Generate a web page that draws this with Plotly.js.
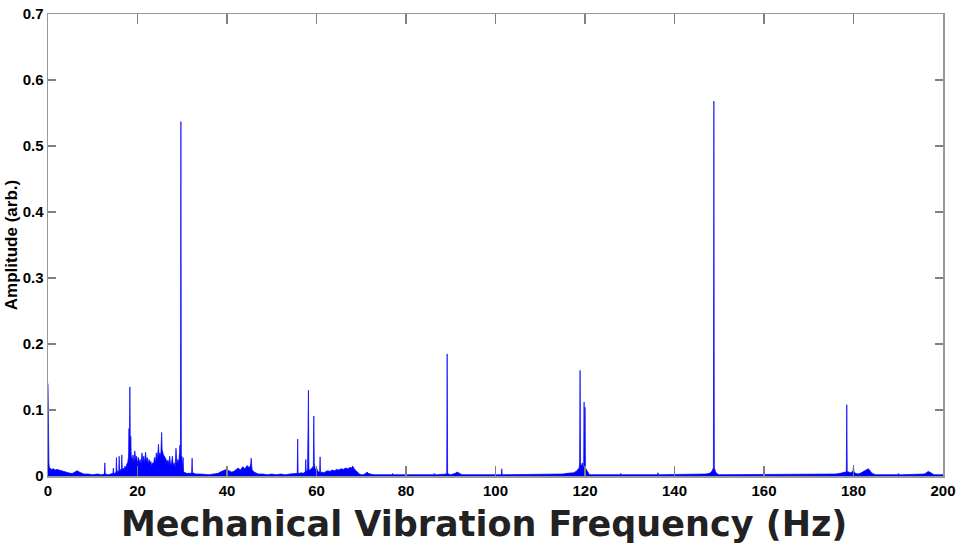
<!DOCTYPE html>
<html>
<head>
<meta charset="utf-8">
<script src="https://cdn.plot.ly/plotly-3.0.1.min.js"></script>
<style>html,body{margin:0;padding:0;background:#fff;}#chart{width:965px;height:547px;}</style>
</head>
<body>
<div id="chart"></div>
<script>
// Frequency (Hz)
var freqHz = [
  0, 0.05, 0.1, 0.2, 0.3, 0.5, 0.8, 1.2, 1.6, 2.0, 2.5, 3.0, 3.5, 4.0, 4.5, 5.0,
  5.5, 6.0, 6.5, 7.0, 7.5, 8.0, 9.0, 10.0, 11.0, 12.0, 12.6, 12.7, 12.8, 13.5, 14.0, 14.5, 14.6, 14.7,
  15.0, 15.2, 15.3, 15.4, 15.6, 15.8, 15.9, 16.0, 16.2, 16.4,
  16.5, 16.6, 16.8, 17.0, 17.2, 17.4, 17.6, 17.8, 18.0, 18.1,
  18.2, 18.3, 18.4, 18.5, 18.6, 18.8, 19.0, 19.2, 19.4, 19.6,
  19.8, 20.0, 20.2, 20.4, 20.6, 20.8, 21.0, 21.2, 21.4, 21.6,
  21.8, 22.0, 22.2, 22.4, 22.6, 22.8, 23.0, 23.2, 23.4, 23.6,
  23.8, 24.0, 24.2, 24.4, 24.6, 24.7, 24.8, 25.0, 25.2, 25.3,
  25.4, 25.5, 25.6, 25.8, 26.0, 26.2, 26.4, 26.6, 26.8, 27.0,
  27.2, 27.4, 27.6, 27.8, 28.0, 28.2, 28.4, 28.6, 28.8, 29.0,
  29.2, 29.4, 29.5, 29.6, 29.7, 29.8, 29.9, 30.0,
  30.2, 30.3, 30.6, 31.0, 31.5, 32.0, 32.1, 32.2, 32.3, 32.6,
  33.0, 34.0, 35.0, 36.0, 37.0, 38.0, 38.5, 39.0, 39.5, 39.9,
  40.0, 40.1, 40.5, 41.0, 41.5, 42.0, 42.5, 43.0, 43.5, 44.0,
  44.5, 45.0, 45.3, 45.4, 45.5, 45.6, 46.0, 46.5, 47.0, 48.0,
  49.0, 50.0, 51.0, 52.0, 53.0, 54.0, 55.0, 55.7, 55.8, 55.9,
  56.2, 56.6, 57.0, 57.5, 57.6, 57.7, 58.0, 58.1, 58.2, 58.3,
  58.4, 58.6, 59.0, 59.3, 59.4, 59.5, 59.7, 60.0, 60.4, 60.7,
  60.8, 60.9, 61.2, 61.6, 62.0, 62.5, 63.0, 63.5, 64.0, 64.5,
  65.0, 65.5, 66.0, 66.5, 67.0, 67.5, 67.8, 68.1, 68.4, 68.8,
  69.2, 69.6, 70.0,
  70.5, 71.0, 71.3, 71.6, 72.0, 73.0, 74.0, 75.0, 76.0, 76.9,
  77.0, 77.1, 78.0, 79.0, 80.0, 81.0, 82.0, 83.0, 84.0, 85.0,
  86.2, 86.3, 86.4, 87.0, 88.0, 89.0, 89.1, 89.2, 89.3, 89.5,
  90.0, 91.0, 91.4, 91.7, 92.0, 92.5, 93.0, 94.0, 95.0, 96.0,
  97.0, 98.0, 99.0, 100.0, 101.3, 101.4, 101.5, 102.0, 103.0, 104.0,
  105.0, 106.0, 107.0, 108.0, 109.0, 110.0, 111.0, 112.0, 113.0, 114.0,
  115.0, 116.0, 116.5, 117.0, 117.5, 118.0, 118.4, 118.7, 118.8, 118.9,
  119.0, 119.2, 119.4, 119.6, 119.7, 119.8, 119.9, 120.0, 120.1, 120.5,
  121.0, 121.5, 122.0, 123.0, 124.0, 125.0, 126.0, 127.0, 127.9, 128.0,
  128.1, 129.0, 130.0, 131.0, 132.0, 133.0, 134.0, 135.0, 136.2, 136.3,
  136.4, 137.0, 138.0, 139.0, 140.0, 141.0, 142.0, 143.0, 144.0, 145.0,
  146.0, 147.0, 147.8, 148.2, 148.5, 148.7, 148.8, 148.9, 149.2, 149.6,
  150.0, 151.0, 152.0, 153.0, 154.0, 155.0, 156.0, 157.0, 158.0, 159.0,
  160.0, 161.0, 162.0, 163.0, 164.0, 165.0, 166.0, 167.0, 168.0, 169.0,
  170.0, 171.0, 172.0, 173.0, 174.0, 175.0, 176.0, 177.0, 177.8, 178.2,
  178.4, 178.5, 178.6, 178.9, 179.3, 179.6, 179.9, 180.0, 180.1, 180.5,
  181.0, 181.5, 182.0, 182.5, 183.0, 183.3, 183.6, 184.0, 184.5, 185.0,
  186.0, 187.0, 188.0, 189.0, 189.9, 190.0, 190.1, 191.0, 192.0, 193.0,
  194.0, 195.0, 195.8, 196.3, 196.7, 197.0, 197.4, 198.0, 199.0, 200.0
];
// Amplitude (arb.)
var amplitude = [
  0.14, 0.045, 0.032, 0.02, 0.013, 0.011, 0.01, 0.011, 0.009, 0.01, 0.009, 0.008, 0.006, 0.005, 0.004, 0.004,
  0.004, 0.006, 0.008, 0.006, 0.004, 0.003, 0.003, 0.002, 0.003, 0.002, 0.003, 0.02, 0.003, 0.002, 0.003, 0.004, 0.012, 0.004,
  0.004, 0.006, 0.028, 0.005, 0.008, 0.006, 0.03, 0.007, 0.01, 0.008,
  0.032, 0.009, 0.012, 0.01, 0.015, 0.012, 0.018, 0.02, 0.03, 0.072,
  0.04, 0.135, 0.035, 0.06, 0.03, 0.025, 0.032, 0.02, 0.038, 0.025,
  0.03, 0.018, 0.028, 0.02, 0.025, 0.018, 0.035, 0.022, 0.03, 0.02,
  0.036, 0.022, 0.028, 0.018, 0.025, 0.02, 0.022, 0.015, 0.02, 0.018,
  0.028, 0.02, 0.035, 0.025, 0.04, 0.048, 0.03, 0.035, 0.03, 0.05,
  0.066, 0.04, 0.035, 0.032, 0.03, 0.028, 0.025, 0.02, 0.024, 0.018,
  0.03, 0.015, 0.02, 0.03, 0.015, 0.02, 0.012, 0.042, 0.018, 0.025,
  0.02, 0.035, 0.047, 0.03, 0.537, 0.02, 0.03, 0.012,
  0.028, 0.006, 0.005, 0.004, 0.004, 0.004, 0.006, 0.027, 0.005, 0.004,
  0.003, 0.003, 0.002, 0.002, 0.003, 0.004, 0.006, 0.008, 0.009, 0.01,
  0.015, 0.009, 0.008, 0.006, 0.007, 0.01, 0.012, 0.009, 0.014, 0.011,
  0.016, 0.012, 0.018, 0.027, 0.014, 0.01, 0.006, 0.004, 0.003, 0.003,
  0.002, 0.003, 0.002, 0.003, 0.002, 0.003, 0.003, 0.004, 0.056, 0.004,
  0.004, 0.005, 0.004, 0.006, 0.025, 0.006, 0.01, 0.09, 0.13, 0.012,
  0.008, 0.01, 0.012, 0.015, 0.091, 0.02, 0.01, 0.012, 0.006, 0.006,
  0.029, 0.005, 0.006, 0.005, 0.006, 0.008, 0.007, 0.009, 0.008, 0.01,
  0.009, 0.011, 0.01, 0.012, 0.011, 0.013, 0.012, 0.015, 0.011, 0.008,
  0.005, 0.003, 0.002,
  0.002, 0.004, 0.006, 0.004, 0.003, 0.002, 0.002, 0.002, 0.002, 0.002,
  0.004, 0.002, 0.002, 0.002, 0.002, 0.002, 0.001, 0.002, 0.002, 0.002,
  0.002, 0.004, 0.002, 0.002, 0.002, 0.003, 0.004, 0.185, 0.004, 0.003,
  0.002, 0.004, 0.006, 0.005, 0.003, 0.002, 0.002, 0.002, 0.002, 0.002,
  0.002, 0.003, 0.002, 0.002, 0.002, 0.011, 0.002, 0.002, 0.002, 0.002,
  0.002, 0.002, 0.003, 0.002, 0.002, 0.003, 0.002, 0.002, 0.003, 0.003,
  0.003, 0.004, 0.004, 0.005, 0.005, 0.007, 0.01, 0.012, 0.02, 0.16,
  0.018, 0.015, 0.02, 0.012, 0.015, 0.112, 0.014, 0.104, 0.012, 0.008,
  0.002, 0.002, 0.002, 0.002, 0.002, 0.002, 0.002, 0.002, 0.002, 0.004,
  0.002, 0.002, 0.002, 0.002, 0.002, 0.001, 0.002, 0.002, 0.002, 0.005,
  0.002, 0.002, 0.002, 0.002, 0.002, 0.002, 0.002, 0.002, 0.002, 0.002,
  0.002, 0.003, 0.004, 0.006, 0.009, 0.013, 0.568, 0.012, 0.006, 0.003,
  0.002, 0.002, 0.002, 0.002, 0.002, 0.002, 0.002, 0.002, 0.002, 0.002,
  0.002, 0.002, 0.002, 0.002, 0.003, 0.002, 0.002, 0.002, 0.003, 0.002,
  0.002, 0.002, 0.002, 0.002, 0.002, 0.003, 0.003, 0.004, 0.005, 0.006,
  0.007, 0.108, 0.007, 0.006, 0.005, 0.006, 0.008, 0.016, 0.006, 0.004,
  0.003, 0.004, 0.006, 0.008, 0.01, 0.011, 0.009, 0.005, 0.003, 0.002,
  0.002, 0.002, 0.002, 0.002, 0.002, 0.004, 0.002, 0.002, 0.002, 0.002,
  0.002, 0.002, 0.003, 0.005, 0.007, 0.006, 0.004, 0.002, 0.002, 0.002
];
var xTickVals = [0, 20, 40, 60, 80, 100, 120, 140, 160, 180, 200];
var yTickVals = [0, 0.1, 0.2, 0.3, 0.4, 0.5, 0.6, 0.7];
var xTitleText = 'Mechanical Vibration Frequency (Hz)';
var yTitleText = 'Amplitude (arb.)';

var tickFont = {family: '"Liberation Sans", Arial, sans-serif', size: 15, color: '#000', weight: 'bold'};

var trace = {
  x: freqHz, y: amplitude, type: 'scatter', mode: 'lines',
  line: {color: '#0000ff', width: 0.7},
  fill: 'tozeroy', fillcolor: '#0000ff',
  hoverinfo: 'x+y'
};

var layout = {
  width: 965, height: 547,
  margin: {l: 48, r: 22, t: 14, b: 71, pad: 0},
  paper_bgcolor: '#fff', plot_bgcolor: '#fff',
  showlegend: false,
  xaxis: {
    range: [0, 200], tickvals: xTickVals, ticks: 'inside', ticklen: 10, tickwidth: 1.3,
    tickcolor: '#808080', showline: true, linecolor: '#999999', linewidth: 1.5, mirror: 'ticks',
    showgrid: false, zeroline: false, tickfont: tickFont, ticklabelstandoff: 0
  },
  yaxis: {
    range: [0, 0.7], tickvals: yTickVals, ticks: 'inside', ticklen: 8, tickwidth: 1.3,
    tickcolor: '#808080', showline: true, linecolor: '#999999', linewidth: 1.5, mirror: 'ticks',
    showgrid: false, zeroline: false, tickfont: tickFont, ticklabelstandoff: 0,
    title: {text: yTitleText, standoff: 0,
            font: {family: '"Liberation Sans", Arial, sans-serif', size: 17, color: '#000', weight: 'bold'}}
  },
  annotations: [{
    text: xTitleText, xref: 'paper', yref: 'paper', x: 0.4866, y: -0.104,
    xanchor: 'center', yanchor: 'middle', showarrow: false, borderpad: 0,
    font: {family: '"DejaVu Sans", sans-serif', size: 35, color: '#222', weight: 'bold'}
  }]
};

Plotly.newPlot('chart', [trace], layout, {displayModeBar: false, staticPlot: true});
</script>
</body>
</html>
